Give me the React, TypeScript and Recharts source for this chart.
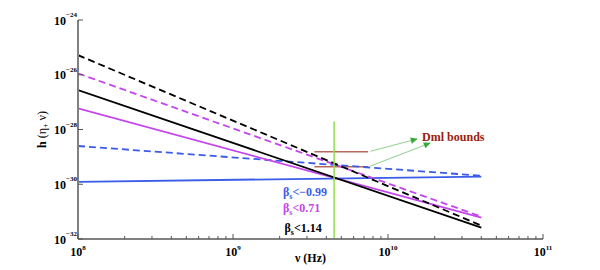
import { LineChart, Line, XAxis, YAxis, ReferenceDot } from "recharts";

// frequency range where the model curves are drawn (Hz)
const freq = [1e8, 4e10];

// h(eta+, nu) at the two ends of freq
const blackSolid = [2.75e-27, 2.6e-32];
const blackDashed = [5.2e-26, 3.1e-32];
const violetSolid = [5.9e-28, 6.0e-32];
const violetDashed = [1.12e-26, 6.6e-32];
const blueSolid = [1.23e-30, 1.9e-30];
const blueDashed = [2.5e-29, 2.05e-30];

// green marker at the crossing frequency
const markerNu = [4.49e9, 4.49e9];
const markerH = [1.95e-28, 1e-32];

// Dml bounds
const boundNu = [3.35e9, 7.45e9];
const upperBound = [1.55e-29, 1.55e-29];
const lowerBound = [4.4e-30, 4.4e-30];

const arrowUpperNu = [7.7e9, 1.54e10];
const arrowUpperH = [1.6e-29, 4.5e-29];
const arrowLowerNu = [7.7e9, 1.87e10];
const arrowLowerH = [4.6e-30, 3.2e-29];

const betaText = ["−0.99", "0.71", "1.14"];
const betaNu = [2.1e9, 2.1e9, 2.15e9];
const betaH = [3.7e-31, 9.8e-32, 1.86e-32];

const dmlNu = 1.66e10;
const dmlH = 3.8e-29;

const xMajor = [1e8, 1e9, 1e10, 1e11];
const xMinorMult = [2, 3, 4, 5, 6, 7, 8, 9];
const yTickExp = [-32, -30, -28, -26, -24];

const BLUE = "#3a5ce8";
const VIOLET = "#c444ee";
const FONT = "'Liberation Serif', 'Times New Roman', serif";
const AXIS = "#808080";
const TICK = "#555";

const rows = (nu: number[], h: number[]) => nu.map((v, i) => ({ nu: v, h: h[i] }));

const xTicks: number[] = [];
xMajor.forEach((d, i) => {
  xTicks.push(d);
  if (i < xMajor.length - 1) xMinorMult.forEach((m) => xTicks.push(d * m));
});
const yTicks = yTickExp.map((e) => Math.pow(10, e));

const isMajor = (v: number) => Math.abs(Math.log10(v) - Math.round(Math.log10(v))) < 1e-6;
const expOf = (v: number) => {
  const e = Math.round(Math.log10(v));
  return e < 0 ? "−" + Math.abs(e) : String(e);
};

const BottomTick = (p: any) => {
  const v = p.payload.value;
  const major = isMajor(v);
  return (
    <g>
      <line x1={p.x} x2={p.x} y1={p.y} y2={p.y - (major ? 5 : 3)} stroke={TICK} />
      {major ? (
        <text x={p.x} y={p.y + 17} textAnchor="middle" fontFamily={FONT} fontWeight="bold" fontSize={12} fill="#000">
          10
          <tspan dy={-6} fontSize={7}>{expOf(v)}</tspan>
        </text>
      ) : null}
    </g>
  );
};

const TopTick = (p: any) => {
  const major = isMajor(p.payload.value);
  return <line x1={p.x} x2={p.x} y1={p.y} y2={p.y + (major ? 5 : 3)} stroke={TICK} />;
};

const LeftTick = (p: any) => (
  <g>
    <line x1={p.x} x2={p.x + 5} y1={p.y} y2={p.y} stroke={TICK} />
    <text x={p.x - 1} y={p.y + 4.5} textAnchor="end" fontFamily={FONT} fontWeight="bold" fontSize={12} fill="#000">
      10
      <tspan dy={-7.5} fontSize={7}>{expOf(p.payload.value)}</tspan>
    </text>
  </g>
);

const RightTick = (p: any) => <line x1={p.x} x2={p.x - 5} y1={p.y} y2={p.y} stroke={TICK} />;

const betaLabel = (val: string, color: string) => (p: any) => (
  <text x={p.viewBox.x} y={p.viewBox.y} fill={color} fontFamily={FONT} fontWeight="bold" fontSize={12}>
    β
    <tspan dy={3} fontSize={8}>s</tspan>
    <tspan dy={-3}>{"<" + val}</tspan>
  </text>
);

const dmlLabel = (p: any) => (
  <text x={p.viewBox.x} y={p.viewBox.y} fill="#9a2010" fontFamily={FONT} fontWeight="bold" fontSize={12}>
    Dml bounds
  </text>
);

const yLabel = (p: any) => {
  const cx = p.viewBox.x + 43;
  const cy = p.viewBox.y + p.viewBox.height / 2;
  return (
    <text x={cx} y={cy} transform={`rotate(-90 ${cx} ${cy})`} textAnchor="middle" dominantBaseline="middle" fontFamily={FONT} fontSize={12} fill="#000">
      <tspan fontWeight="bold">h</tspan> (η
      <tspan dy={3} fontSize={8}>+</tspan>
      <tspan dy={-3}> ν)</tspan>
    </text>
  );
};

const xLabel = (p: any) => (
  <text x={p.viewBox.x + p.viewBox.width / 2} y={p.viewBox.y + 23} textAnchor="middle" fontFamily={FONT} fontWeight="bold" fontSize={12} fill="#000">
    ν (Hz)
  </text>
);

const series = [
  { h: blueDashed, color: BLUE, dash: "7 4" },
  { h: blueSolid, color: BLUE, dash: undefined },
  { h: violetDashed, color: VIOLET, dash: "7 4" },
  { h: violetSolid, color: VIOLET, dash: undefined },
  { h: blackDashed, color: "#000", dash: "7 4" },
  { h: blackSolid, color: "#000", dash: undefined },
];
const betaColors = [BLUE, VIOLET, "#000"];

export default function App() {
  return (
    <div style={{ position: "absolute", left: 0, top: 0, width: 600, height: 270, background: "#fff" }}>
      <svg width={0} height={0} style={{ position: "absolute" }}>
        <defs>
          <marker id="dmlArrow" viewBox="0 0 10 10" refX="9" refY="5" markerWidth="8" markerHeight="7" markerUnits="userSpaceOnUse" orient="auto">
            <path d="M0,0.5 L10,5 L0,9.5 z" fill="#3aa83a" />
          </marker>
        </defs>
      </svg>
      <LineChart width={600} height={270} margin={{ top: 20, right: 57, left: 0, bottom: 0 }}>
        <XAxis
          dataKey="nu"
          type="number"
          scale="log"
          domain={[1e8, 1e11]}
          allowDataOverflow
          ticks={xTicks}
          interval={0}
          tickLine={false}
          tickSize={0}
          tickMargin={0}
          tick={BottomTick}
          axisLine={{ stroke: AXIS, strokeWidth: 2 }}
          height={31}
          label={{ content: xLabel }}
        />
        <XAxis
          xAxisId="top"
          orientation="top"
          dataKey="nu"
          type="number"
          scale="log"
          domain={[1e8, 1e11]}
          allowDataOverflow
          ticks={xTicks}
          interval={0}
          tickLine={false}
          tickSize={0}
          tickMargin={0}
          tick={TopTick}
          axisLine={{ stroke: AXIS, strokeWidth: 2 }}
          height={0}
        />
        <YAxis
          type="number"
          scale="log"
          domain={[1e-32, 1e-24]}
          allowDataOverflow
          ticks={yTicks}
          interval={0}
          tickLine={false}
          tickSize={0}
          tickMargin={0}
          tick={LeftTick}
          axisLine={{ stroke: AXIS, strokeWidth: 2 }}
          width={78}
          label={{ content: yLabel }}
        />
        <YAxis
          yAxisId="right"
          orientation="right"
          type="number"
          scale="log"
          domain={[1e-32, 1e-24]}
          allowDataOverflow
          ticks={yTicks}
          interval={0}
          tickLine={false}
          tickSize={0}
          tickMargin={0}
          tick={RightTick}
          axisLine={{ stroke: AXIS, strokeWidth: 2 }}
          width={0}
        />
        <Line data={rows(boundNu, upperBound)} dataKey="h" stroke="#b86a5c" strokeWidth={1.5} dot={false} activeDot={false} isAnimationActive={false} />
        <Line data={rows(boundNu, lowerBound)} dataKey="h" stroke="#b86a5c" strokeWidth={1.5} dot={false} activeDot={false} isAnimationActive={false} />
        <Line data={rows(arrowUpperNu, arrowUpperH)} dataKey="h" stroke="#8fd08f" strokeWidth={1} markerEnd="url(#dmlArrow)" dot={false} activeDot={false} isAnimationActive={false} />
        <Line data={rows(arrowLowerNu, arrowLowerH)} dataKey="h" stroke="#8fd08f" strokeWidth={1} markerEnd="url(#dmlArrow)" dot={false} activeDot={false} isAnimationActive={false} />
        {series.map((s, i) => (
          <Line
            key={i}
            data={rows(freq, s.h)}
            dataKey="h"
            type="linear"
            stroke={s.color}
            strokeWidth={1.8}
            strokeDasharray={s.dash}
            dot={false}
            activeDot={false}
            isAnimationActive={false}
          />
        ))}
        <Line data={rows(markerNu, markerH)} dataKey="h" stroke="#8ee04a" strokeWidth={1.5} dot={false} activeDot={false} isAnimationActive={false} />
        {betaText.map((t, i) => (
          <ReferenceDot key={t} x={betaNu[i]} y={betaH[i]} r={0} fill="none" stroke="none" label={betaLabel(t, betaColors[i])} />
        ))}
        <ReferenceDot x={dmlNu} y={dmlH} r={0} fill="none" stroke="none" label={dmlLabel} />
      </LineChart>
    </div>
  );
}
